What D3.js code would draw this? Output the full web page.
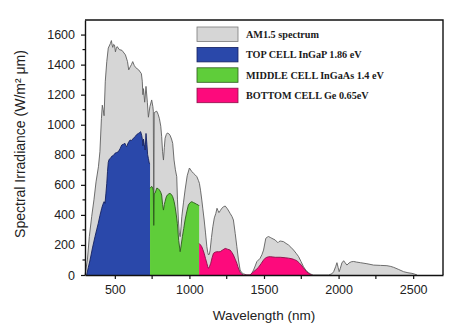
<!DOCTYPE html>
<html>
<head>
<meta charset="utf-8">
<script src="https://cdn.jsdelivr.net/npm/d3@7"></script>
<style>
  html, body { margin: 0; padding: 0; background: #fff; }
  svg { display: block; }
  .tick text { font-family: "Liberation Sans", Arial, sans-serif; font-size: 12.5px; fill: #222; }
</style>
</head>
<body>
<svg id="chart" width="455" height="325"></svg>
<script>
// AM1.5 solar spectrum [wavelength nm, irradiance W/m² µm]
const am15 = [
  [300,0],[316,100],[329,255],[345,390],[360,500],[374,620],[390,720],[400,820],[410,1040],[416,1130],
  [422,1100],[428,1060],[436,1290],[446,1420],[456,1510],[470,1540],[477,1560],[482,1530],[486,1515],
  [492,1535],[498,1530],[504,1485],[510,1510],[516,1520],[530,1500],[548,1495],[571,1465],[585,1420],
  [593,1365],[603,1385],[611,1400],[620,1420],[630,1395],[640,1380],[660,1365],[678,1340],[684,1290],
  [688,1200],[692,1240],[700,1150],[709,1255],[718,1150],[725,1050],[735,1120],[747,1165],[755,1120],
  [758,1090],[761,330],[764,1080],[770,1085],[781,1090],[790,1070],[799,1040],[808,990],[814,920],
  [820,820],[826,765],[832,850],[837,910],[845,935],[852,945],[862,940],[870,930],[880,905],[888,876],
  [897,765],[906,700],[915,654],[920,500],[926,366],[932,280],[938,255],[944,320],[949,388],[960,480],
  [971,566],[985,660],[1000,712],[1015,690],[1027,677],[1040,665],[1050,654],[1060,630],[1067,610],
  [1075,560],[1083,499],[1090,440],[1099,366],[1108,280],[1117,188],[1123,150],[1128,133],[1134,140],
  [1139,166],[1148,250],[1157,321],[1167,380],[1177,410],[1185,444],[1191,430],[1198,415],[1208,430],
  [1217,444],[1230,455],[1240,459],[1255,440],[1273,410],[1285,390],[1295,366],[1307,277],[1318,188],
  [1329,100],[1340,33],[1351,15],[1362,8],[1385,0],[1407,0],[1420,15],[1430,33],[1441,60],[1452,89],
  [1463,100],[1474,111],[1486,135],[1497,166],[1512,244],[1522,252],[1530,256],[1542,250],[1553,244],
  [1575,233],[1593,215],[1600,222],[1609,226],[1620,224],[1631,222],[1648,210],[1664,200],[1680,185],
  [1698,166],[1715,145],[1732,122],[1748,90],[1765,55],[1780,32],[1799,15],[1815,5],[1832,0],[1933,0],
  [1955,8],[1967,22],[1980,55],[1989,82],[1997,50],[2004,22],[2012,45],[2022,80],[2034,95],[2045,80],
  [2056,66],[2070,80],[2085,88],[2101,90],[2120,86],[2146,82],[2190,75],[2235,66],[2280,64],[2324,62],
  [2350,57],[2369,51],[2400,38],[2436,22],[2465,15],[2492,11],[2510,6],[2526,0]
];

// Top cell (InGaP 1.86 eV) absorbed share
const topCell = [
  [311,0],[322,50],[334,100],[350,180],[367,255],[378,300],[389,344],[400,395],[412,444],[420,470],
  [428,488],[434,477],[440,540],[446,610],[451,690],[456,750],[462,770],[470,775],[479,790],[490,795],
  [501,810],[512,815],[523,820],[535,840],[546,865],[557,870],[568,876],[574,860],[579,854],[590,880],
  [602,898],[612,895],[620,905],[635,920],[647,935],[658,942],[666,948],[673,954],[680,930],[685,900],
  [688,860],[692,905],[697,870],[703,832],[709,942],[715,870],[720,800],[725,776],[731,743],[736,740]
];

// Middle cell (InGaAs 1.4 eV)
const middleCell = [
  [736,577],[747,590],[754,580],[758,560],[761,330],[764,540],[770,545],[781,578],[790,575],[799,566],
  [808,550],[814,532],[820,470],[826,432],[832,470],[837,490],[845,520],[852,532],[862,540],[870,543],
  [880,535],[888,521],[897,490],[904,454],[912,400],[919,344],[928,230],[938,155],[945,200],[953,255],
  [962,310],[971,366],[982,420],[993,466],[1005,482],[1016,488],[1027,482],[1038,477],[1050,470],
  [1060,466],[1065,460]
];

// Bottom cell (Ge 0.65 eV), two absorption bands
const bottomCell = [
  [1065,210],[1075,200],[1083,188],[1090,170],[1099,144],[1108,110],[1117,78],[1123,55],[1128,44],
  [1134,55],[1143,78],[1152,115],[1161,144],[1172,152],[1184,155],[1195,155],[1206,155],[1220,165],
  [1240,177],[1255,172],[1273,166],[1285,150],[1295,133],[1307,105],[1318,78],[1325,55],[1333,33],
  [1342,15],[1351,7],[1362,0],[1407,0],[1418,10],[1430,22],[1446,35],[1463,51],[1480,75],[1497,100],
  [1508,112],[1519,118],[1530,121],[1542,122],[1560,120],[1575,118],[1609,118],[1642,115],[1665,112],
  [1687,108],[1705,102],[1720,95],[1735,82],[1750,66],[1762,50],[1772,38],[1785,22],[1799,11],
  [1810,4],[1820,0]
];

const legendLabels = ["AM1.5 spectrum", "TOP CELL InGaP 1.86 eV", "MIDDLE CELL InGaAs 1.4 eV", "BOTTOM CELL Ge 0.65eV"];
const xMajorTicks = [500, 1000, 1500, 2000, 2500];
const xMinorTicks = [750, 1250, 1750, 2250];
const yMajorTicks = [0, 200, 400, 600, 800, 1000, 1200, 1400, 1600];
const yMinorTicks = [100, 300, 500, 700, 900, 1100, 1300, 1500];

const layers = [
  { data: am15,       fill: "#d6d6d6", stroke: "#5f5f5f" },
  { data: topCell,    fill: "#2a48aa", stroke: "#142060" },
  { data: middleCell, fill: "#5fcd3a", stroke: "#2d5a1c" },
  { data: bottomCell, fill: "#fd0a7c", stroke: "#8a1048" }
];

const svg = d3.select("#chart");
const m = { left: 85, right: 443, top: 20, bottom: 275 };

const x = d3.scaleLinear().domain([300, 2700]).range([m.left, m.right]);
const y = d3.scaleLinear().domain([0, 1697]).range([m.bottom, m.top]);

const area = d3.area().x(d => x(d[0])).y0(y(0)).y1(d => y(d[1])).curve(d3.curveLinear);
const line = d3.line().x(d => x(d[0])).y(d => y(d[1])).curve(d3.curveLinear);

const plot = svg.append("g");
layers.forEach(l => {
  plot.append("path").attr("d", area(l.data)).attr("fill", l.fill).attr("stroke", "none");
  plot.append("path").attr("d", line(l.data)).attr("fill", "none")
    .attr("stroke", l.stroke).attr("stroke-width", 0.9).attr("stroke-linejoin", "round");
});

// Frame: top and right edges
svg.append("path")
  .attr("d", `M${m.left},${m.top}H${m.right}V${m.bottom}`)
  .attr("fill", "none").attr("stroke", "#111").attr("stroke-width", 1.4);

// Axes
const fmt = d3.format("d");
const xAxis = svg.append("g").attr("transform", `translate(0,${m.bottom})`)
  .call(d3.axisBottom(x).tickValues(xMajorTicks).tickFormat(fmt).tickSize(4).tickPadding(6).tickSizeOuter(0));
xAxis.append("g").selectAll("line").data(xMinorTicks).join("line")
  .attr("x1", d => x(d)).attr("x2", d => x(d)).attr("y1", 0).attr("y2", 4)
  .attr("stroke", "#111").attr("stroke-width", 1.2);

const yAxis = svg.append("g").attr("transform", `translate(${m.left},0)`)
  .call(d3.axisLeft(y).tickValues(yMajorTicks).tickFormat(fmt).tickSize(4).tickPadding(6).tickSizeOuter(0));
yAxis.append("g").selectAll("line").data(yMinorTicks).join("line")
  .attr("y1", d => y(d)).attr("y2", d => y(d)).attr("x1", 0).attr("x2", -2.5)
  .attr("stroke", "#111").attr("stroke-width", 1.2);

[xAxis, yAxis].forEach(a => {
  a.select(".domain").attr("stroke", "#111").attr("stroke-width", 1.4);
  a.selectAll(".tick line").attr("stroke", "#111").attr("stroke-width", 1.2);
});

// Axis titles
svg.append("text")
  .attr("x", (m.left + m.right) / 2).attr("y", 320)
  .attr("text-anchor", "middle")
  .attr("font-family", "Liberation Sans, Arial, sans-serif").attr("font-size", 13.5).attr("fill", "#222")
  .text("Wavelength (nm)");

svg.append("text")
  .attr("transform", "translate(25,144) rotate(-90)")
  .attr("text-anchor", "middle")
  .attr("font-family", "Liberation Sans, Arial, sans-serif").attr("font-size", 14).attr("fill", "#222")
  .text("Spectral Irradiance (W/m\u00B2 \u03BCm)");

// Legend
const legend = svg.append("g");
const rows = legend.selectAll("g").data(legendLabels).join("g")
  .attr("transform", (d, i) => `translate(197,${27 + i * 20.4})`);
rows.append("rect")
  .attr("width", 41).attr("height", 14.5)
  .attr("fill", (d, i) => layers[i].fill)
  .attr("stroke", (d, i) => i === 0 ? "#7a7a7a" : layers[i].stroke)
  .attr("stroke-width", 0.8);
rows.append("text")
  .attr("x", 49).attr("y", 7.5).attr("dy", "0.35em")
  .attr("font-family", "Liberation Serif, 'Times New Roman', serif").attr("font-weight", "bold")
  .attr("font-size", 10.2).attr("fill", "#1a1a1a")
  .text(d => d);
</script>
</body>
</html>
